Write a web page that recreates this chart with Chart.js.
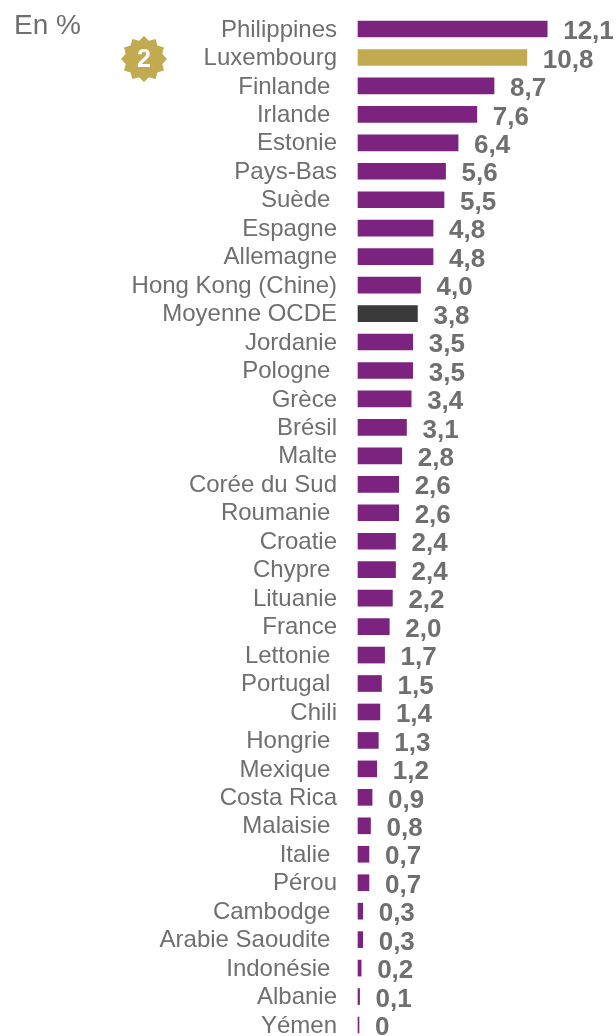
<!DOCTYPE html>
<html>
<head>
<meta charset="utf-8">
<style>
html, body { margin: 0; padding: 0; background: #fff; overflow: hidden; }
#wrap { position: relative; width: 616px; height: 1036px; }
#note { position: absolute; left: 14px; top: 9px; font: 28px "Liberation Sans", Arial, sans-serif; color: #6f6f6f; }
</style>
<script src="https://cdn.jsdelivr.net/npm/chart.js@4"></script>
</head>
<body>
<div id="wrap">
  <canvas id="chart" width="616" height="1036"></canvas>
  <div id="note">En %</div>
</div>
<script>
// trailing spaces are in the original labels, they push the text left
const countries = ['Philippines', 'Luxembourg', 'Finlande ', 'Irlande ', 'Estonie', 'Pays-Bas', 'Suède ', 'Espagne',
    'Allemagne', 'Hong Kong (Chine)', 'Moyenne OCDE', 'Jordanie', 'Pologne ', 'Grèce', 'Brésil', 'Malte', 'Corée du Sud',
    'Roumanie ', 'Croatie', 'Chypre ', 'Lituanie', 'France', 'Lettonie ', 'Portugal ', 'Chili', 'Hongrie ', 'Mexique ',
    'Costa Rica', 'Malaisie ', 'Italie ', 'Pérou', 'Cambodge ', 'Arabie Saoudite ', 'Indonésie ', 'Albanie', 'Yémen'];
const shares = [12.1, 10.8, 8.7, 7.6, 6.4, 5.6, 5.5, 4.8, 4.8, 4.0, 3.8, 3.5, 3.5, 3.4, 3.1, 2.8, 2.6, 2.6, 2.4, 2.4,
    2.2, 2.0, 1.7, 1.5, 1.4, 1.3, 1.2, 0.9, 0.8, 0.7, 0.7, 0.3, 0.3, 0.2, 0.1, 0];

const PURPLE = '#7b237f', GOLD = '#c2aa50', DARK = '#3a3a3a', GREY = '#6f6f6f';

function barColor(name) {
    if (name === 'Luxembourg') return GOLD;
    if (name === 'Moyenne OCDE') return DARK;
    return PURPLE;
}

// values at the end of the bars
const valueLabels = {
    id: 'valueLabels',
    afterDatasetsDraw(chart) {
        const ctx = chart.ctx;
        ctx.save();
        ctx.font = 'bold 26px "Liberation Sans", Arial, sans-serif';
        ctx.fillStyle = GREY;
        ctx.textBaseline = 'middle';
        ctx.textAlign = 'left';
        chart.getDatasetMeta(0).data.forEach(function(bar, i) {
            const txt = shares[i] === 0 ? '0' : shares[i].toFixed(1).replace('.', ',');
            ctx.fillText(txt, bar.x + 16, bar.y + 3);
        });
        ctx.restore();
    }
};

// gold seal with the rank of Luxembourg
const rankBadge = {
    id: 'rankBadge',
    afterDraw(chart) {
        const ctx = chart.ctx, cx = 144, cy = 59, teeth = 12;
        ctx.save();
        ctx.beginPath();
        for (let i = 0; i < teeth * 2; i++) {
            const r = i % 2 ? 19 : 23;
            const a = Math.PI * i / teeth - Math.PI / 2;
            ctx.lineTo(cx + r * Math.cos(a), cy + r * Math.sin(a));
        }
        ctx.closePath();
        ctx.fillStyle = GOLD;
        ctx.fill();
        ctx.fillStyle = '#fff';
        ctx.font = 'bold 25px "Liberation Sans", Arial, sans-serif';
        ctx.textAlign = 'center';
        ctx.textBaseline = 'middle';
        ctx.fillText('2', cx, cy + 1);
        ctx.restore();
    }
};

new Chart(document.getElementById('chart').getContext('2d'), {
    type: 'bar',
    data: {
        labels: countries,
        datasets: [{
            data: shares,
            backgroundColor: countries.map(barColor),
            barThickness: 16,
            minBarLength: 1,
            clip: false
        }]
    },
    options: {
        indexAxis: 'y',
        responsive: false,
        animation: false,
        layout: { padding: { top: 29, bottom: 11, left: 0, right: 0 } },
        plugins: { legend: { display: false }, tooltip: { enabled: false } },
        scales: {
            x: { display: false, min: 0, max: 16.5 },
            y: {
                offset: false,
                afterFit: function(scale) {
                    scale.width = 358;
                    // no extra room for half a label at both ends
                    scale.paddingTop = 0;
                    scale.paddingBottom = 0;
                },
                grid: { display: false, drawTicks: false },
                border: { display: false },
                ticks: {
                    autoSkip: false,
                    padding: 21,
                    labelOffset: 1,
                    color: GREY,
                    font: { family: '"Liberation Sans", Arial, sans-serif', size: 24 }
                }
            }
        }
    },
    plugins: [valueLabels, rankBadge]
});
</script>
</body>
</html>
